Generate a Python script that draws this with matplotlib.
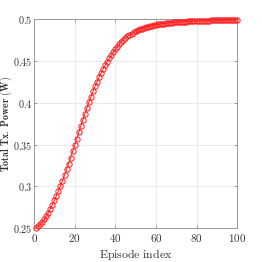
import matplotlib
matplotlib.use("Agg")
import matplotlib.pyplot as plt
import numpy as np

plt.rcParams['mathtext.fontset'] = 'cm'
plt.rcParams['font.family'] = ['DejaVu Serif']

episodes = list(range(1, 101))
total_power = [
    0.2505, 0.2520, 0.2542, 0.2570, 0.2603, 0.2641, 0.2683, 0.2729, 0.2778, 0.2830,
    0.2885, 0.2943, 0.3004, 0.3068, 0.3134, 0.3202, 0.3272, 0.3344, 0.3418, 0.3493,
    0.3569, 0.3645, 0.3720, 0.3794, 0.3867, 0.3938, 0.4007, 0.4073, 0.4136, 0.4196,
    0.4253, 0.4307, 0.4358, 0.4406, 0.4451, 0.4493, 0.4533, 0.4571, 0.4607, 0.4641,
    0.4673, 0.4703, 0.4731, 0.4757, 0.4778, 0.4797, 0.4814, 0.4829, 0.4843, 0.4856,
    0.4868, 0.4879, 0.4889, 0.4898, 0.4906, 0.4913, 0.4919, 0.4925, 0.4930, 0.4935,
    0.4939, 0.4943, 0.4947, 0.4950, 0.4953, 0.4956, 0.4959, 0.4961, 0.4963, 0.4965,
    0.4967, 0.4969, 0.4971, 0.4972, 0.4974, 0.4975, 0.4977, 0.4978, 0.4979, 0.4980,
    0.4981, 0.4982, 0.4983, 0.4984, 0.4985, 0.4986, 0.4987, 0.4987, 0.4988, 0.4989,
    0.4989, 0.4990, 0.4990, 0.4991, 0.4991, 0.4992, 0.4992, 0.4993, 0.4993, 0.4994,
]
x_ticks = [0, 20, 40, 60, 80, 100]
y_ticks = [0.25, 0.3, 0.35, 0.4, 0.45, 0.5]
x_tick_labels = ['0', '20', '40', '60', '80', '100']
y_tick_labels = ['0.25', '0.3', '0.35', '0.4', '0.45', '0.5']

fig = plt.figure(figsize=(2.62, 2.62), dpi=100)
ax = fig.add_axes([0.130, 0.130, 0.775, 0.796])

ax.plot(episodes, total_power, color='#ff0000', lw=0.6, marker='o',
        markersize=3.8, markerfacecolor='none', markeredgecolor='#ff1a1a',
        markeredgewidth=0.7, zorder=3, clip_on=False)

ax.set_xlim(0, 100)
ax.set_ylim(0.25, 0.5)
ax.set_xticks(x_ticks)
ax.set_yticks(y_ticks)
ax.set_xticklabels(['$' + t + '$' for t in x_tick_labels], fontsize=8)
ax.set_yticklabels(['$' + t + '$' for t in y_tick_labels], fontsize=7.3)

ax.grid(True, color='#e8e8e8', lw=0.6)
ax.set_axisbelow(True)
ax.tick_params(direction='in', length=2.5, width=0.5, colors='#777777',
               top=True, right=True)
ax.tick_params(axis='y', pad=1.2)
ax.tick_params(axis='x', pad=3)
for lab in ax.get_xticklabels() + ax.get_yticklabels():
    lab.set_color('#333333')
for s in ax.spines.values():
    s.set_color('#999999')
    s.set_linewidth(0.7)

ax.set_xlabel(r'$\mathrm{Episode\ index}$', fontsize=8.5, color='#333333', labelpad=2)
fig.text(0.025, 0.527, r'$\mathbf{Total\ Tx.\ Power\ (W)}$', fontsize=7.2,
         color='#333333', rotation=90, ha='center', va='center')

fig.savefig('out.png', dpi=100)
